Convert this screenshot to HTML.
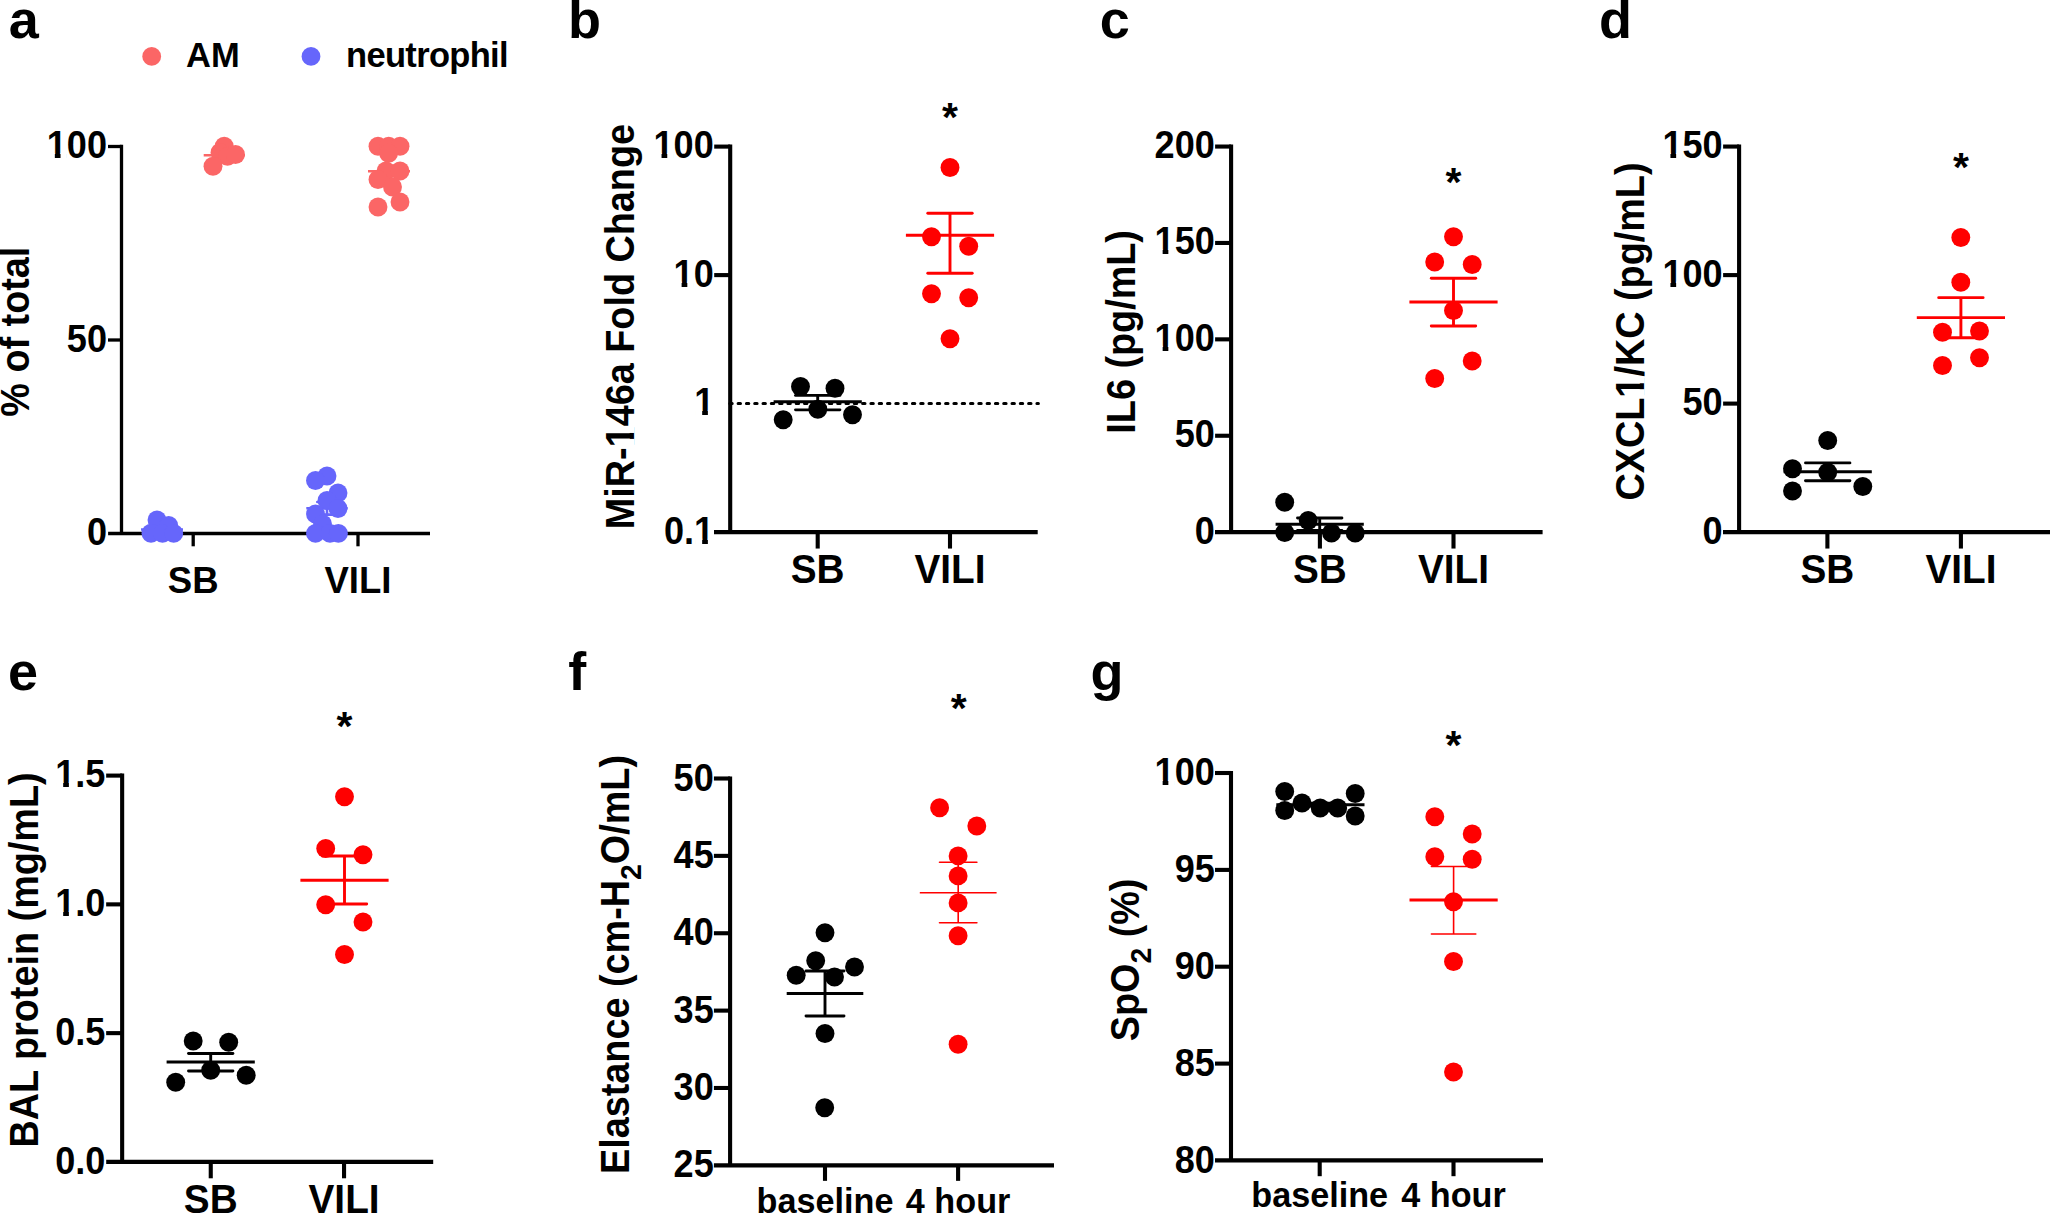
<!DOCTYPE html>
<html lang="en"><head><meta charset="utf-8"><title>Figure</title>
<style>html,body{margin:0;padding:0;background:#fff;}body{width:2050px;height:1213px;overflow:hidden;}svg{display:block;}text{font-family:"Liberation Sans", sans-serif;font-weight:bold;fill:#000;}</style>
</head><body>
<svg width="2050" height="1213" viewBox="0 0 2050 1213">
<rect width="2050" height="1213" fill="#ffffff"/>
<text x="8.8" y="37.5" font-size="54" text-anchor="start">a</text>
<text x="568" y="37.65" font-size="54" text-anchor="start">b</text>
<text x="1099.7" y="37.65" font-size="54" text-anchor="start">c</text>
<text x="1599" y="37.65" font-size="54" text-anchor="start">d</text>
<text x="8" y="690" font-size="54" text-anchor="start">e</text>
<text x="568.2" y="690" font-size="54" text-anchor="start">f</text>
<text x="1090.5" y="690" font-size="54" text-anchor="start">g</text>
<g id="panel-a">
<circle cx="151.7" cy="56.4" r="9.4" fill="#fb6666"/>
<text x="186" y="67.3" font-size="34.5" text-anchor="start">AM</text>
<circle cx="311" cy="56.4" r="9.4" fill="#6666fb"/>
<text x="346.1" y="67.3" font-size="34.5" text-anchor="start" textLength="162.4" lengthAdjust="spacing">neutrophil</text>
<text transform="translate(28.5 331.7) rotate(-90) scale(0.945 1)" font-size="40" text-anchor="middle">% of total</text>
<line x1="203.7" y1="155.2" x2="245" y2="155.2" stroke="#fb6666" stroke-width="2.6"/>
<line x1="368" y1="171.2" x2="410" y2="171.2" stroke="#fb6666" stroke-width="2.6"/>
<line x1="141" y1="529.5" x2="183" y2="529.5" stroke="#6666fb" stroke-width="2.6"/>
<line x1="306.3" y1="508.3" x2="347.7" y2="508.3" stroke="#6666fb" stroke-width="2.6"/>
<line x1="317.3" y1="502" x2="336.7" y2="502" stroke="#6666fb" stroke-width="2.6" stroke-linecap="round"/>
<line x1="317.3" y1="514.6" x2="336.7" y2="514.6" stroke="#6666fb" stroke-width="2.6" stroke-linecap="round"/>
<line x1="327" y1="502" x2="327" y2="514.6" stroke="#6666fb" stroke-width="2.6"/>
<circle cx="224.2" cy="146.2" r="9.45" fill="#fb6666"/>
<circle cx="220" cy="152.5" r="9.45" fill="#fb6666"/>
<circle cx="227.5" cy="156.2" r="9.45" fill="#fb6666"/>
<circle cx="235.5" cy="154.5" r="9.45" fill="#fb6666"/>
<circle cx="213" cy="166.2" r="9.45" fill="#fb6666"/>
<circle cx="378" cy="146.2" r="9.45" fill="#fb6666"/>
<circle cx="388.7" cy="146.2" r="9.45" fill="#fb6666"/>
<circle cx="400" cy="146.2" r="9.45" fill="#fb6666"/>
<circle cx="388.6" cy="153.3" r="9.45" fill="#fb6666"/>
<circle cx="386" cy="171" r="9.45" fill="#fb6666"/>
<circle cx="400" cy="171" r="9.45" fill="#fb6666"/>
<circle cx="378" cy="179.5" r="9.45" fill="#fb6666"/>
<circle cx="392.5" cy="187" r="9.45" fill="#fb6666"/>
<circle cx="400" cy="202" r="9.45" fill="#fb6666"/>
<circle cx="378" cy="207" r="9.45" fill="#fb6666"/>
<line x1="121.5" y1="144.85" x2="121.5" y2="533.5" stroke="#000000" stroke-width="3.3"/>
<line x1="108.1" y1="533.5" x2="430" y2="533.5" stroke="#000000" stroke-width="3.3"/>
<line x1="108" y1="146.5" x2="121.5" y2="146.5" stroke="#000000" stroke-width="3.3"/>
<text transform="translate(107 158.1) scale(0.94 1)" font-size="38.4" text-anchor="end">100</text>
<line x1="108" y1="340" x2="121.5" y2="340" stroke="#000000" stroke-width="3.3"/>
<text transform="translate(107 351.6) scale(0.94 1)" font-size="38.4" text-anchor="end">50</text>
<text transform="translate(107 545.1) scale(0.94 1)" font-size="38.4" text-anchor="end">0</text>
<line x1="193.2" y1="533.5" x2="193.2" y2="546.3" stroke="#000000" stroke-width="3.3"/>
<text transform="translate(193.2 592.7) scale(0.975 1)" font-size="37.5" text-anchor="middle">SB</text>
<line x1="358" y1="533.5" x2="358" y2="546.3" stroke="#000000" stroke-width="3.3"/>
<text transform="translate(358 592.7) scale(0.975 1)" font-size="37.5" text-anchor="middle">VILI</text>
<circle cx="157" cy="520" r="9.45" fill="#6666fb"/>
<circle cx="168.7" cy="525.5" r="9.45" fill="#6666fb"/>
<circle cx="151" cy="533.2" r="9.45" fill="#6666fb"/>
<circle cx="162.5" cy="533.4" r="9.45" fill="#6666fb"/>
<circle cx="173.7" cy="533.4" r="9.45" fill="#6666fb"/>
<circle cx="327" cy="476" r="9.45" fill="#6666fb"/>
<circle cx="315.5" cy="480.5" r="9.45" fill="#6666fb"/>
<circle cx="338" cy="493" r="9.45" fill="#6666fb"/>
<circle cx="327" cy="500.5" r="9.45" fill="#6666fb"/>
<circle cx="338" cy="508.5" r="9.45" fill="#6666fb"/>
<circle cx="315.5" cy="514" r="9.45" fill="#6666fb"/>
<circle cx="322.5" cy="524" r="9.45" fill="#6666fb"/>
<circle cx="315.5" cy="533.4" r="9.45" fill="#6666fb"/>
<circle cx="330" cy="533.4" r="9.45" fill="#6666fb"/>
<circle cx="338.4" cy="533.4" r="9.45" fill="#6666fb"/>
</g>
<g id="panel-b">
<text transform="translate(633.9 529.2) rotate(-90) scale(0.945 1)" font-size="40" text-anchor="start">MiR-146a Fold Change</text>
<line x1="730.2" y1="144.55" x2="730.2" y2="532.15" stroke="#000000" stroke-width="4.1"/>
<line x1="714" y1="532.15" x2="1037.7" y2="532.15" stroke="#000000" stroke-width="4.1"/>
<line x1="714.2" y1="146.6" x2="730.2" y2="146.6" stroke="#000000" stroke-width="4.1"/>
<text transform="translate(713.7 158.1) scale(0.94 1)" font-size="38.4" text-anchor="end">100</text>
<line x1="714.2" y1="275.1" x2="730.2" y2="275.1" stroke="#000000" stroke-width="4.1"/>
<text transform="translate(713.7 286.6) scale(0.94 1)" font-size="38.4" text-anchor="end">10</text>
<text transform="translate(714.2 415.1) scale(0.94 1)" font-size="38.4" text-anchor="end">1</text>
<text transform="translate(714.2 543.65) scale(0.94 1)" font-size="38.4" text-anchor="end">0.1</text>
<line x1="817.7" y1="532.15" x2="817.7" y2="548.55" stroke="#000000" stroke-width="4.1"/>
<text transform="translate(817.7 583.2) scale(0.945 1)" font-size="41" text-anchor="middle">SB</text>
<line x1="950" y1="532.15" x2="950" y2="548.55" stroke="#000000" stroke-width="4.1"/>
<text transform="translate(950 583.2) scale(0.945 1)" font-size="41" text-anchor="middle">VILI</text>
<line x1="729.8" y1="403.6" x2="1038.4" y2="403.6" stroke="#000000" stroke-width="3" stroke-dasharray="2.4 5.9" stroke-linecap="round"/>
<line x1="773.6" y1="401.7" x2="861.8" y2="401.7" stroke="#000000" stroke-width="2.9"/>
<line x1="795.5" y1="395.4" x2="839.9" y2="395.4" stroke="#000000" stroke-width="2.9" stroke-linecap="round"/>
<line x1="795.5" y1="409.85" x2="839.9" y2="409.85" stroke="#000000" stroke-width="2.9" stroke-linecap="round"/>
<line x1="817.7" y1="395.4" x2="817.7" y2="409.85" stroke="#000000" stroke-width="2.9"/>
<circle cx="800.5" cy="386.5" r="9.45" fill="#000000"/>
<circle cx="835" cy="388.3" r="9.45" fill="#000000"/>
<circle cx="817.8" cy="409.2" r="9.45" fill="#000000"/>
<circle cx="783.2" cy="419.8" r="9.45" fill="#000000"/>
<circle cx="852.5" cy="414.8" r="9.45" fill="#000000"/>
<line x1="905.9" y1="235.2" x2="994.1" y2="235.2" stroke="#ff0000" stroke-width="2.9"/>
<line x1="927.8" y1="213.2" x2="972.2" y2="213.2" stroke="#ff0000" stroke-width="2.9" stroke-linecap="round"/>
<line x1="927.8" y1="273.2" x2="972.2" y2="273.2" stroke="#ff0000" stroke-width="2.9" stroke-linecap="round"/>
<line x1="950" y1="213.2" x2="950" y2="273.2" stroke="#ff0000" stroke-width="2.9"/>
<circle cx="950" cy="167.5" r="9.45" fill="#ff0000"/>
<circle cx="931.5" cy="236.7" r="9.45" fill="#ff0000"/>
<circle cx="968.7" cy="246.2" r="9.45" fill="#ff0000"/>
<circle cx="931.5" cy="293.7" r="9.45" fill="#ff0000"/>
<circle cx="968.7" cy="297.7" r="9.45" fill="#ff0000"/>
<circle cx="950" cy="338.7" r="9.45" fill="#ff0000"/>
<text x="950" y="130.8" font-size="41" text-anchor="middle">*</text>
</g>
<g id="panel-c">
<text transform="translate(1135 433.7) rotate(-90) scale(0.945 1)" font-size="40" text-anchor="start">IL6 (pg/mL)</text>
<line x1="1231.1" y1="144.5" x2="1231.1" y2="532.15" stroke="#000000" stroke-width="4.1"/>
<line x1="1215" y1="532.15" x2="1542.6" y2="532.15" stroke="#000000" stroke-width="4.1"/>
<line x1="1215.1" y1="146.55" x2="1231.1" y2="146.55" stroke="#000000" stroke-width="4.1"/>
<text transform="translate(1214.8 158.05) scale(0.94 1)" font-size="38.4" text-anchor="end">200</text>
<line x1="1215.1" y1="242.95" x2="1231.1" y2="242.95" stroke="#000000" stroke-width="4.1"/>
<text transform="translate(1214.8 254.45) scale(0.94 1)" font-size="38.4" text-anchor="end">150</text>
<line x1="1215.1" y1="339.35" x2="1231.1" y2="339.35" stroke="#000000" stroke-width="4.1"/>
<text transform="translate(1214.8 350.85) scale(0.94 1)" font-size="38.4" text-anchor="end">100</text>
<line x1="1215.1" y1="435.75" x2="1231.1" y2="435.75" stroke="#000000" stroke-width="4.1"/>
<text transform="translate(1214.8 447.25) scale(0.94 1)" font-size="38.4" text-anchor="end">50</text>
<text transform="translate(1214.8 543.65) scale(0.94 1)" font-size="38.4" text-anchor="end">0</text>
<line x1="1319.9" y1="532.15" x2="1319.9" y2="548.55" stroke="#000000" stroke-width="4.1"/>
<text transform="translate(1319.9 583.2) scale(0.945 1)" font-size="41" text-anchor="middle">SB</text>
<line x1="1453.5" y1="532.15" x2="1453.5" y2="548.55" stroke="#000000" stroke-width="4.1"/>
<text transform="translate(1453.5 583.2) scale(0.945 1)" font-size="41" text-anchor="middle">VILI</text>
<line x1="1275.6" y1="524.2" x2="1363.8" y2="524.2" stroke="#000000" stroke-width="2.9"/>
<line x1="1297.5" y1="518" x2="1341.9" y2="518" stroke="#000000" stroke-width="2.9" stroke-linecap="round"/>
<line x1="1297.5" y1="530.4" x2="1341.9" y2="530.4" stroke="#000000" stroke-width="2.9" stroke-linecap="round"/>
<line x1="1319.7" y1="518" x2="1319.7" y2="530.4" stroke="#000000" stroke-width="2.9"/>
<circle cx="1284.7" cy="502.2" r="9.45" fill="#000000"/>
<circle cx="1308.2" cy="520.5" r="9.45" fill="#000000"/>
<circle cx="1284.7" cy="532.5" r="9.45" fill="#000000"/>
<circle cx="1331.5" cy="533" r="9.45" fill="#000000"/>
<circle cx="1355.2" cy="533" r="9.45" fill="#000000"/>
<line x1="1409.4" y1="302" x2="1497.6" y2="302" stroke="#ff0000" stroke-width="2.9"/>
<line x1="1431.3" y1="278.2" x2="1475.7" y2="278.2" stroke="#ff0000" stroke-width="2.9" stroke-linecap="round"/>
<line x1="1431.3" y1="326" x2="1475.7" y2="326" stroke="#ff0000" stroke-width="2.9" stroke-linecap="round"/>
<line x1="1453.5" y1="278.2" x2="1453.5" y2="326" stroke="#ff0000" stroke-width="2.9"/>
<circle cx="1453.5" cy="236.7" r="9.45" fill="#ff0000"/>
<circle cx="1434.7" cy="262" r="9.45" fill="#ff0000"/>
<circle cx="1472.2" cy="264.5" r="9.45" fill="#ff0000"/>
<circle cx="1453.5" cy="310.5" r="9.45" fill="#ff0000"/>
<circle cx="1472.2" cy="361" r="9.45" fill="#ff0000"/>
<circle cx="1434.7" cy="378.5" r="9.45" fill="#ff0000"/>
<text x="1453.5" y="196.2" font-size="41" text-anchor="middle">*</text>
</g>
<g id="panel-d">
<text transform="translate(1644 500.5) rotate(-90) scale(0.945 1)" font-size="40" text-anchor="start">CXCL1/KC (pg/mL)</text>
<line x1="1739.1" y1="144.5" x2="1739.1" y2="532.15" stroke="#000000" stroke-width="4.1"/>
<line x1="1723" y1="532.15" x2="2052" y2="532.15" stroke="#000000" stroke-width="4.1"/>
<line x1="1723.1" y1="146.55" x2="1739.1" y2="146.55" stroke="#000000" stroke-width="4.1"/>
<text transform="translate(1722.6 158.05) scale(0.94 1)" font-size="38.4" text-anchor="end">150</text>
<line x1="1723.1" y1="275.1" x2="1739.1" y2="275.1" stroke="#000000" stroke-width="4.1"/>
<text transform="translate(1722.6 286.6) scale(0.94 1)" font-size="38.4" text-anchor="end">100</text>
<line x1="1723.1" y1="403.6" x2="1739.1" y2="403.6" stroke="#000000" stroke-width="4.1"/>
<text transform="translate(1722.6 415.1) scale(0.94 1)" font-size="38.4" text-anchor="end">50</text>
<text transform="translate(1722.6 543.65) scale(0.94 1)" font-size="38.4" text-anchor="end">0</text>
<line x1="1827.4" y1="532.15" x2="1827.4" y2="548.55" stroke="#000000" stroke-width="4.1"/>
<text transform="translate(1827.4 583.2) scale(0.945 1)" font-size="41" text-anchor="middle">SB</text>
<line x1="1960.9" y1="532.15" x2="1960.9" y2="548.55" stroke="#000000" stroke-width="4.1"/>
<text transform="translate(1960.9 583.2) scale(0.945 1)" font-size="41" text-anchor="middle">VILI</text>
<line x1="1783.6" y1="471.7" x2="1871.8" y2="471.7" stroke="#000000" stroke-width="2.9"/>
<line x1="1805.5" y1="462.9" x2="1849.9" y2="462.9" stroke="#000000" stroke-width="2.9" stroke-linecap="round"/>
<line x1="1805.5" y1="480.7" x2="1849.9" y2="480.7" stroke="#000000" stroke-width="2.9" stroke-linecap="round"/>
<line x1="1827.7" y1="462.9" x2="1827.7" y2="480.7" stroke="#000000" stroke-width="2.9"/>
<circle cx="1827.7" cy="440.5" r="9.45" fill="#000000"/>
<circle cx="1792.5" cy="468.8" r="9.45" fill="#000000"/>
<circle cx="1827.7" cy="472.2" r="9.45" fill="#000000"/>
<circle cx="1792.5" cy="491" r="9.45" fill="#000000"/>
<circle cx="1862.8" cy="486.5" r="9.45" fill="#000000"/>
<line x1="1916.8" y1="317.6" x2="2005" y2="317.6" stroke="#ff0000" stroke-width="2.9"/>
<line x1="1938.7" y1="297.65" x2="1983.1" y2="297.65" stroke="#ff0000" stroke-width="2.9" stroke-linecap="round"/>
<line x1="1938.7" y1="337.8" x2="1983.1" y2="337.8" stroke="#ff0000" stroke-width="2.9" stroke-linecap="round"/>
<line x1="1960.9" y1="297.65" x2="1960.9" y2="337.8" stroke="#ff0000" stroke-width="2.9"/>
<circle cx="1960.8" cy="237.5" r="9.45" fill="#ff0000"/>
<circle cx="1960.8" cy="282.3" r="9.45" fill="#ff0000"/>
<circle cx="1942.5" cy="332.3" r="9.45" fill="#ff0000"/>
<circle cx="1979.5" cy="331" r="9.45" fill="#ff0000"/>
<circle cx="1979.5" cy="357.8" r="9.45" fill="#ff0000"/>
<circle cx="1942.5" cy="365.5" r="9.45" fill="#ff0000"/>
<text x="1960.9" y="181.2" font-size="41" text-anchor="middle">*</text>
</g>
<g id="panel-e">
<text transform="translate(37.5 1147.5) rotate(-90) scale(0.945 1)" font-size="40" text-anchor="start">BAL protein (mg/mL)</text>
<line x1="122.15" y1="773.55" x2="122.15" y2="1161.9" stroke="#000000" stroke-width="4.1"/>
<line x1="106.2" y1="1161.9" x2="433.2" y2="1161.9" stroke="#000000" stroke-width="4.1"/>
<line x1="106.15" y1="775.6" x2="122.15" y2="775.6" stroke="#000000" stroke-width="4.1"/>
<text transform="translate(105.3 787.4) scale(0.94 1)" font-size="38.4" text-anchor="end">1.5</text>
<line x1="106.15" y1="904.37" x2="122.15" y2="904.37" stroke="#000000" stroke-width="4.1"/>
<text transform="translate(105.3 916.17) scale(0.94 1)" font-size="38.4" text-anchor="end">1.0</text>
<line x1="106.15" y1="1033.13" x2="122.15" y2="1033.13" stroke="#000000" stroke-width="4.1"/>
<text transform="translate(105.3 1044.93) scale(0.94 1)" font-size="38.4" text-anchor="end">0.5</text>
<text transform="translate(105.3 1173.7) scale(0.94 1)" font-size="38.4" text-anchor="end">0.0</text>
<line x1="210.75" y1="1161.9" x2="210.75" y2="1178.3" stroke="#000000" stroke-width="4.1"/>
<text transform="translate(210.75 1212.8) scale(0.945 1)" font-size="41" text-anchor="middle">SB</text>
<line x1="344.05" y1="1161.9" x2="344.05" y2="1178.3" stroke="#000000" stroke-width="4.1"/>
<text transform="translate(344.05 1212.8) scale(0.945 1)" font-size="41" text-anchor="middle">VILI</text>
<line x1="166.6" y1="1062" x2="254.8" y2="1062" stroke="#000000" stroke-width="2.9"/>
<line x1="188.5" y1="1053.5" x2="232.9" y2="1053.5" stroke="#000000" stroke-width="2.9" stroke-linecap="round"/>
<line x1="188.5" y1="1071" x2="232.9" y2="1071" stroke="#000000" stroke-width="2.9" stroke-linecap="round"/>
<line x1="210.7" y1="1053.5" x2="210.7" y2="1071" stroke="#000000" stroke-width="2.9"/>
<circle cx="193.2" cy="1041" r="9.45" fill="#000000"/>
<circle cx="228.7" cy="1042.2" r="9.45" fill="#000000"/>
<circle cx="210.7" cy="1070.2" r="9.45" fill="#000000"/>
<circle cx="175.7" cy="1082.2" r="9.45" fill="#000000"/>
<circle cx="246.2" cy="1075.2" r="9.45" fill="#000000"/>
<line x1="300.4" y1="880.2" x2="388.6" y2="880.2" stroke="#ff0000" stroke-width="2.9"/>
<line x1="322.3" y1="856" x2="366.7" y2="856" stroke="#ff0000" stroke-width="2.9" stroke-linecap="round"/>
<line x1="322.3" y1="904" x2="366.7" y2="904" stroke="#ff0000" stroke-width="2.9" stroke-linecap="round"/>
<line x1="344.5" y1="856" x2="344.5" y2="904" stroke="#ff0000" stroke-width="2.9"/>
<circle cx="344.5" cy="796.7" r="9.45" fill="#ff0000"/>
<circle cx="325.7" cy="848.5" r="9.45" fill="#ff0000"/>
<circle cx="363" cy="854.7" r="9.45" fill="#ff0000"/>
<circle cx="325.7" cy="904.7" r="9.45" fill="#ff0000"/>
<circle cx="363" cy="922" r="9.45" fill="#ff0000"/>
<circle cx="344.5" cy="954.5" r="9.45" fill="#ff0000"/>
<text x="344.5" y="739.9" font-size="41" text-anchor="middle">*</text>
</g>
<g id="panel-f">
<text transform="translate(629 1174) rotate(-90) scale(0.945 1)" font-size="40" text-anchor="start">Elastance (cm-H<tspan font-size="30" dy="12">2</tspan><tspan dy="-12">O/mL)</tspan></text>
<line x1="730.1" y1="776.45" x2="730.1" y2="1165.35" stroke="#000000" stroke-width="4.1"/>
<line x1="713.9" y1="1165.35" x2="1054" y2="1165.35" stroke="#000000" stroke-width="4.1"/>
<line x1="713.9" y1="778.5" x2="730.1" y2="778.5" stroke="#000000" stroke-width="4.1"/>
<text transform="translate(713.7 790.6) scale(0.94 1)" font-size="38.4" text-anchor="end">50</text>
<line x1="713.9" y1="855.87" x2="730.1" y2="855.87" stroke="#000000" stroke-width="4.1"/>
<text transform="translate(713.7 867.97) scale(0.94 1)" font-size="38.4" text-anchor="end">45</text>
<line x1="713.9" y1="933.24" x2="730.1" y2="933.24" stroke="#000000" stroke-width="4.1"/>
<text transform="translate(713.7 945.34) scale(0.94 1)" font-size="38.4" text-anchor="end">40</text>
<line x1="713.9" y1="1010.61" x2="730.1" y2="1010.61" stroke="#000000" stroke-width="4.1"/>
<text transform="translate(713.7 1022.71) scale(0.94 1)" font-size="38.4" text-anchor="end">35</text>
<line x1="713.9" y1="1087.98" x2="730.1" y2="1087.98" stroke="#000000" stroke-width="4.1"/>
<text transform="translate(713.7 1100.08) scale(0.94 1)" font-size="38.4" text-anchor="end">30</text>
<text transform="translate(713.7 1177.45) scale(0.94 1)" font-size="38.4" text-anchor="end">25</text>
<line x1="825" y1="1165.35" x2="825" y2="1180.85" stroke="#000000" stroke-width="4.1"/>
<text x="825" y="1213.1" font-size="34.2" text-anchor="middle">baseline</text>
<line x1="958.1" y1="1165.35" x2="958.1" y2="1180.85" stroke="#000000" stroke-width="4.1"/>
<text x="958.1" y="1213.1" font-size="34.2" text-anchor="middle">4 hour</text>
<line x1="786.7" y1="993.5" x2="863.3" y2="993.5" stroke="#000000" stroke-width="2.9"/>
<line x1="806" y1="971" x2="844" y2="971" stroke="#000000" stroke-width="2.9" stroke-linecap="round"/>
<line x1="806" y1="1016" x2="844" y2="1016" stroke="#000000" stroke-width="2.9" stroke-linecap="round"/>
<line x1="825" y1="971" x2="825" y2="1016" stroke="#000000" stroke-width="2.9"/>
<circle cx="825" cy="932.7" r="9.45" fill="#000000"/>
<circle cx="815.7" cy="960.7" r="9.45" fill="#000000"/>
<circle cx="854.5" cy="967" r="9.45" fill="#000000"/>
<circle cx="796.2" cy="975.2" r="9.45" fill="#000000"/>
<circle cx="834.5" cy="977" r="9.45" fill="#000000"/>
<circle cx="825" cy="1033.5" r="9.45" fill="#000000"/>
<circle cx="824.7" cy="1107.8" r="9.45" fill="#000000"/>
<line x1="919.8" y1="892.7" x2="996.6" y2="892.7" stroke="#ff0000" stroke-width="1.6"/>
<line x1="939.5" y1="862.2" x2="976.9" y2="862.2" stroke="#ff0000" stroke-width="1.6" stroke-linecap="round"/>
<line x1="939.5" y1="922.7" x2="976.9" y2="922.7" stroke="#ff0000" stroke-width="1.6" stroke-linecap="round"/>
<line x1="958.2" y1="862.2" x2="958.2" y2="922.7" stroke="#ff0000" stroke-width="1.6"/>
<circle cx="939.6" cy="807.7" r="9.45" fill="#ff0000"/>
<circle cx="976.8" cy="826" r="9.45" fill="#ff0000"/>
<circle cx="958.1" cy="855.9" r="9.45" fill="#ff0000"/>
<circle cx="958.1" cy="875.9" r="9.45" fill="#ff0000"/>
<circle cx="958.1" cy="902.9" r="9.45" fill="#ff0000"/>
<circle cx="958.1" cy="935.7" r="9.45" fill="#ff0000"/>
<circle cx="958.1" cy="1044.3" r="9.45" fill="#ff0000"/>
<text x="958.7" y="722.2" font-size="41" text-anchor="middle">*</text>
</g>
<g id="panel-g">
<text transform="translate(1139 1041.3) rotate(-90) scale(0.945 1)" font-size="40" text-anchor="start">SpO<tspan font-size="30" dy="12">2</tspan><tspan dy="-12"> (%)</tspan></text>
<line x1="1231" y1="770.95" x2="1231" y2="1160.4" stroke="#000000" stroke-width="4.1"/>
<line x1="1215" y1="1160.4" x2="1543" y2="1160.4" stroke="#000000" stroke-width="4.1"/>
<line x1="1215" y1="773" x2="1231" y2="773" stroke="#000000" stroke-width="4.1"/>
<text transform="translate(1214.8 785.1) scale(0.94 1)" font-size="38.4" text-anchor="end">100</text>
<line x1="1215" y1="869.9" x2="1231" y2="869.9" stroke="#000000" stroke-width="4.1"/>
<text transform="translate(1214.8 882) scale(0.94 1)" font-size="38.4" text-anchor="end">95</text>
<line x1="1215" y1="966.7" x2="1231" y2="966.7" stroke="#000000" stroke-width="4.1"/>
<text transform="translate(1214.8 978.8) scale(0.94 1)" font-size="38.4" text-anchor="end">90</text>
<line x1="1215" y1="1063.6" x2="1231" y2="1063.6" stroke="#000000" stroke-width="4.1"/>
<text transform="translate(1214.8 1075.7) scale(0.94 1)" font-size="38.4" text-anchor="end">85</text>
<text transform="translate(1214.8 1172.5) scale(0.94 1)" font-size="38.4" text-anchor="end">80</text>
<line x1="1319.7" y1="1160.4" x2="1319.7" y2="1176.2" stroke="#000000" stroke-width="4.1"/>
<text x="1319.7" y="1207" font-size="34.2" text-anchor="middle">baseline</text>
<line x1="1453.5" y1="1160.4" x2="1453.5" y2="1176.2" stroke="#000000" stroke-width="4.1"/>
<text x="1453.5" y="1207" font-size="34.2" text-anchor="middle">4 hour</text>
<line x1="1276.3" y1="804.7" x2="1364.5" y2="804.7" stroke="#000000" stroke-width="2.9"/>
<line x1="1298.2" y1="803.3" x2="1342.6" y2="803.3" stroke="#000000" stroke-width="2.9" stroke-linecap="round"/>
<line x1="1298.2" y1="806.1" x2="1342.6" y2="806.1" stroke="#000000" stroke-width="2.9" stroke-linecap="round"/>
<line x1="1320.4" y1="803.3" x2="1320.4" y2="806.1" stroke="#000000" stroke-width="2.9"/>
<circle cx="1284.7" cy="791.5" r="9.45" fill="#000000"/>
<circle cx="1355.2" cy="793.5" r="9.45" fill="#000000"/>
<circle cx="1302" cy="803" r="9.45" fill="#000000"/>
<circle cx="1320.2" cy="808" r="9.45" fill="#000000"/>
<circle cx="1337.7" cy="808" r="9.45" fill="#000000"/>
<circle cx="1284.7" cy="810.5" r="9.45" fill="#000000"/>
<circle cx="1355.2" cy="816" r="9.45" fill="#000000"/>
<line x1="1409.5" y1="900" x2="1497.7" y2="900" stroke="#ff0000" stroke-width="3.1"/>
<line x1="1431.4" y1="866.5" x2="1475.8" y2="866.5" stroke="#ff0000" stroke-width="1.6" stroke-linecap="round"/>
<line x1="1431.4" y1="934" x2="1475.8" y2="934" stroke="#ff0000" stroke-width="1.6" stroke-linecap="round"/>
<line x1="1453.6" y1="866.5" x2="1453.6" y2="934" stroke="#ff0000" stroke-width="1.6"/>
<circle cx="1434.8" cy="816.7" r="9.45" fill="#ff0000"/>
<circle cx="1472.2" cy="834" r="9.45" fill="#ff0000"/>
<circle cx="1434.8" cy="856.7" r="9.45" fill="#ff0000"/>
<circle cx="1472.2" cy="859.2" r="9.45" fill="#ff0000"/>
<circle cx="1453.5" cy="901.7" r="9.45" fill="#ff0000"/>
<circle cx="1453.5" cy="961.5" r="9.45" fill="#ff0000"/>
<circle cx="1453.5" cy="1072" r="9.45" fill="#ff0000"/>
<text x="1453.5" y="759.1" font-size="41" text-anchor="middle">*</text>
</g>
<g id="digit-one-trim" fill="#ffffff">
<g transform="translate(107 158.1) scale(0.94 1)"><rect x="-62.83" y="-5.12" width="7.34" height="5.82"/><rect x="-49.42" y="-5.12" width="6.56" height="5.82"/></g>
<g transform="translate(633.9 529.2) rotate(-90) scale(0.945 1)"><rect x="87.93" y="-5.28" width="7.62" height="5.98"/><rect x="101.84" y="-5.28" width="6.81" height="5.98"/></g>
<g transform="translate(713.7 158.1) scale(0.94 1)"><rect x="-62.83" y="-5.12" width="7.34" height="5.82"/><rect x="-49.42" y="-5.12" width="6.56" height="5.82"/></g>
<g transform="translate(713.7 286.6) scale(0.94 1)"><rect x="-41.48" y="-5.12" width="7.34" height="5.82"/><rect x="-28.07" y="-5.12" width="6.56" height="5.82"/></g>
<g transform="translate(714.2 415.1) scale(0.94 1)"><rect x="-20.13" y="-5.12" width="7.34" height="5.82"/><rect x="-6.72" y="-5.12" width="6.56" height="5.82"/></g>
<g transform="translate(714.2 543.65) scale(0.94 1)"><rect x="-20.15" y="-5.12" width="7.34" height="5.82"/><rect x="-6.73" y="-5.12" width="6.56" height="5.82"/></g>
<g transform="translate(1214.8 254.45) scale(0.94 1)"><rect x="-62.83" y="-5.12" width="7.34" height="5.82"/><rect x="-49.42" y="-5.12" width="6.56" height="5.82"/></g>
<g transform="translate(1214.8 350.85) scale(0.94 1)"><rect x="-62.83" y="-5.12" width="7.34" height="5.82"/><rect x="-49.42" y="-5.12" width="6.56" height="5.82"/></g>
<g transform="translate(1644 500.5) rotate(-90) scale(0.945 1)"><rect x="110.18" y="-5.28" width="7.62" height="5.98"/><rect x="124.08" y="-5.28" width="6.81" height="5.98"/></g>
<g transform="translate(1722.6 158.05) scale(0.94 1)"><rect x="-62.83" y="-5.12" width="7.34" height="5.82"/><rect x="-49.42" y="-5.12" width="6.56" height="5.82"/></g>
<g transform="translate(1722.6 286.6) scale(0.94 1)"><rect x="-62.83" y="-5.12" width="7.34" height="5.82"/><rect x="-49.42" y="-5.12" width="6.56" height="5.82"/></g>
<g transform="translate(105.3 787.4) scale(0.94 1)"><rect x="-52.15" y="-5.12" width="7.34" height="5.82"/><rect x="-38.74" y="-5.12" width="6.56" height="5.82"/></g>
<g transform="translate(105.3 916.17) scale(0.94 1)"><rect x="-52.15" y="-5.12" width="7.34" height="5.82"/><rect x="-38.74" y="-5.12" width="6.56" height="5.82"/></g>
<g transform="translate(1214.8 785.1) scale(0.94 1)"><rect x="-62.83" y="-5.12" width="7.34" height="5.82"/><rect x="-49.42" y="-5.12" width="6.56" height="5.82"/></g>
</g>
</svg>
</body></html>
